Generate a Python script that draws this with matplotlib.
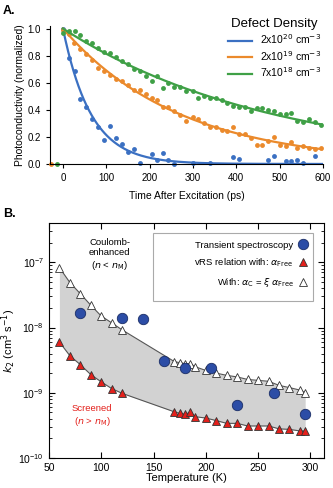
import numpy as np
import matplotlib
matplotlib.use('Agg')
import matplotlib.pyplot as plt
from matplotlib.patches import Rectangle

plt.rcParams['font.family'] = ['Liberation Sans', 'DejaVu Sans']
plt.rcParams['mathtext.fontset'] = 'dejavusans'

# ---- panel A data (photoconductivity decay) ----
t_blue = [0, 13, 28, 40, 54, 67, 82, 95, 109, 123, 136, 151, 163, 177, 205, 216, 230,
          243, 257, 299, 339, 393, 407, 474, 487, 514, 527, 541, 554, 581]
y_blue = [1.0, 0.78, 0.69, 0.48, 0.42, 0.33, 0.27, 0.18, 0.28, 0.19, 0.15, 0.09, 0.11,
          0.01, 0.07, 0.03, 0.08, 0.03, 0.0, 0.01, 0.01, 0.05, 0.04, 0.03, 0.06, 0.02,
          0.02, 0.03, 0.01, 0.06]
t_orange = [-28, 0, 13, 26, 40, 54, 67, 82, 95, 109, 123, 136, 151, 163, 177, 192, 205,
            216, 230, 243, 257, 270, 285, 299, 312, 325, 339, 353, 366, 378, 393, 407,
            420, 433, 447, 460, 474, 487, 500, 514, 527, 541, 554, 568, 581, 596]
y_orange = [0.0, 0.99, 0.96, 0.89, 0.85, 0.81, 0.77, 0.71, 0.69, 0.66, 0.63, 0.61, 0.58,
            0.55, 0.55, 0.52, 0.49, 0.47, 0.42, 0.42, 0.39, 0.36, 0.32, 0.35, 0.33, 0.30,
            0.27, 0.27, 0.25, 0.24, 0.27, 0.22, 0.22, 0.19, 0.14, 0.14, 0.17, 0.20, 0.14,
            0.13, 0.16, 0.12, 0.13, 0.12, 0.11, 0.12]
t_green = [-13, 0, 13, 28, 40, 54, 67, 82, 95, 109, 123, 136, 151, 163, 177, 192, 205,
           216, 230, 243, 257, 270, 285, 299, 312, 325, 339, 353, 366, 378, 393, 407,
           420, 433, 447, 460, 474, 487, 500, 514, 527, 541, 554, 568, 581, 596]
y_green = [0.0, 0.97, 0.98, 0.98, 0.95, 0.91, 0.89, 0.86, 0.83, 0.82, 0.79, 0.76, 0.74,
           0.70, 0.69, 0.65, 0.61, 0.65, 0.56, 0.60, 0.57, 0.57, 0.54, 0.54, 0.49, 0.50,
           0.49, 0.49, 0.47, 0.45, 0.43, 0.42, 0.42, 0.39, 0.41, 0.41, 0.40, 0.39, 0.37,
           0.37, 0.38, 0.32, 0.31, 0.33, 0.31, 0.29]
labels_A = ['2x10$^{20}$ cm$^{-3}$', '2x10$^{19}$ cm$^{-3}$', '7x10$^{18}$ cm$^{-3}$']
colors_A = ['#3b70c2', '#eb8a2c', '#3fa046']

# ---- panel B data (k2 vs temperature) ----
T_ts = [80, 120, 140, 160, 180, 205, 230, 265, 295]
k_ts = [1.7e-8, 1.39e-8, 1.33e-8, 3.07e-9, 2.43e-9, 2.43e-9, 6.5e-10, 1.0e-9, 4.8e-10]
T_vrs = [60, 70, 80, 90, 100, 110, 120, 170, 175, 180, 185, 190, 200, 210, 220, 230,
         240, 250, 260, 270, 280, 290, 295]
k_free = [6.0e-9, 3.7e-9, 2.7e-9, 1.9e-9, 1.47e-9, 1.16e-9, 9.8e-10, 5.1e-10, 4.85e-10,
          4.7e-10, 5.0e-10, 4.3e-10, 4.1e-10, 3.75e-10, 3.4e-10, 3.4e-10, 3.1e-10,
          3.1e-10, 3.1e-10, 2.8e-10, 2.75e-10, 2.6e-10, 2.6e-10]
k_coul = [8.3e-8, 4.9e-8, 3.3e-8, 2.2e-8, 1.5e-8, 1.18e-8, 9.2e-9, 3.0e-9, 2.9e-9,
          2.8e-9, 2.8e-9, 2.5e-9, 2.2e-9, 2.0e-9, 1.85e-9, 1.75e-9, 1.6e-9, 1.55e-9,
          1.5e-9, 1.3e-9, 1.2e-9, 1.1e-9, 1.0e-9]


def fit_tau(t, y):
    # single exponential least squares by grid search
    t = np.asarray(t, float)
    y = np.asarray(y, float)
    m = t >= 0
    taus = np.linspace(5, 1500, 3000)
    err = ((np.exp(-t[m][None, :] / taus[:, None]) - y[m][None, :]) ** 2).sum(1)
    return taus[np.argmin(err)]


fig = plt.figure(figsize=(3.33, 4.88), dpi=100)

# ================= A =================
axA = fig.add_axes([0.150, 0.664, 0.820, 0.283])
tt = np.linspace(0, 600, 300)
for (t, y), c, lab in zip([(t_blue, y_blue), (t_orange, y_orange), (t_green, y_green)],
                          colors_A, labels_A):
    axA.plot(t, y, 'o', color=c, ms=3.5, mec='none', clip_on=False)
    tau = fit_tau(t, y)
    axA.plot(tt, np.exp(-tt / tau), color=c, lw=1.6, label=lab)
axA.set_xlim(-30, 600)
axA.set_ylim(0, 1.02)
axA.set_xticks([0, 100, 200, 300, 400, 500, 600])
axA.set_yticks([0, 0.2, 0.4, 0.6, 0.8, 1.0])
axA.set_yticklabels(['0.0', '0.2', '0.4', '0.6', '0.8', '1.0'])
axA.spines['top'].set_visible(False)
axA.spines['right'].set_visible(False)
axA.tick_params(labelsize=7, length=3, direction='out')
axA.set_xlabel('Time After Excitation (ps)', fontsize=7.5, labelpad=6)
axA.set_ylabel('Photoconductivity (normalized)', fontsize=7.5, labelpad=2)
leg = axA.legend(title='Defect Density', fontsize=7.5, title_fontsize=9.5,
                 frameon=False, loc='upper right', bbox_to_anchor=(1.02, 1.11),
                 handlelength=2.3, labelspacing=0.25, borderpad=0.2)
fig.text(0.008, 0.972, 'A.', fontsize=9, fontweight='bold')

# ================= B =================
axB = fig.add_axes([0.147, 0.0614, 0.826, 0.4816])
axB.fill_between(T_vrs, k_free, k_coul, color='#d2d2d2', lw=0)
axB.plot(T_vrs, k_coul, color='#555555', lw=0.8)
axB.plot(T_vrs, k_free, color='#555555', lw=0.8)
h3, = axB.plot(T_vrs, k_coul, '^', ms=5.5, mfc='white', mec='#333333', mew=0.6, ls='none',
               label=r'With: $\alpha_{\rm C}$ = $\xi$ $\alpha_{\rm Free}$')
h2, = axB.plot(T_vrs, k_free, '^', ms=5.5, mfc='#e3201b', mec='#333333', mew=0.6, ls='none',
               label=r'vRS relation with: $\alpha_{\rm Free}$')
h1, = axB.plot(T_ts, k_ts, 'o', ms=7.5, mfc='#2c4da6', mec='#1a2d66', mew=0.6, ls='none',
               label='Transient spectroscopy')
axB.set_yscale('log')
axB.set_xlim(50, 313)
axB.set_ylim(1e-10, 4e-7)
axB.set_xticks([50, 100, 150, 200, 250, 300])
axB.tick_params(which='both', direction='in', top=True, right=True, labelsize=7.5)
axB.tick_params(which='major', length=4)
axB.tick_params(which='minor', length=2)
axB.set_xlabel('Temperature (K)', fontsize=8, labelpad=0)
axB.set_ylabel(r'$k_2$ (cm$^3$ s$^{-1}$)', fontsize=8, labelpad=0)
# legend box spans further left than its contents
axB.add_patch(Rectangle((0.378, 0.669), 0.582, 0.289, transform=axB.transAxes,
                        facecolor='white', edgecolor='#aaaaaa', lw=0.8, zorder=4))
legB = axB.legend(handles=[h1, h2, h3], loc='upper right', bbox_to_anchor=(0.975, 0.965),
                  markerfirst=False, fontsize=6.8, frameon=False,
                  handlelength=1.0, labelspacing=0.75, borderpad=0.5, handletextpad=0.5)
legB.set_zorder(5)
axB.text(108, 1.3e-7, 'Coulomb-\nenhanced\n($n$ < $n_{\\rm M}$)', fontsize=6.8,
         ha='center', va='center', linespacing=1.15)
axB.text(91, 4.4e-10, 'Screened\n($n$ > $n_{\\rm M}$)', fontsize=6.8, color='#e3201b',
         ha='center', va='center', linespacing=1.15)
fig.text(0.008, 0.555, 'B.', fontsize=9, fontweight='bold')

fig.savefig('out.png', dpi=100)
